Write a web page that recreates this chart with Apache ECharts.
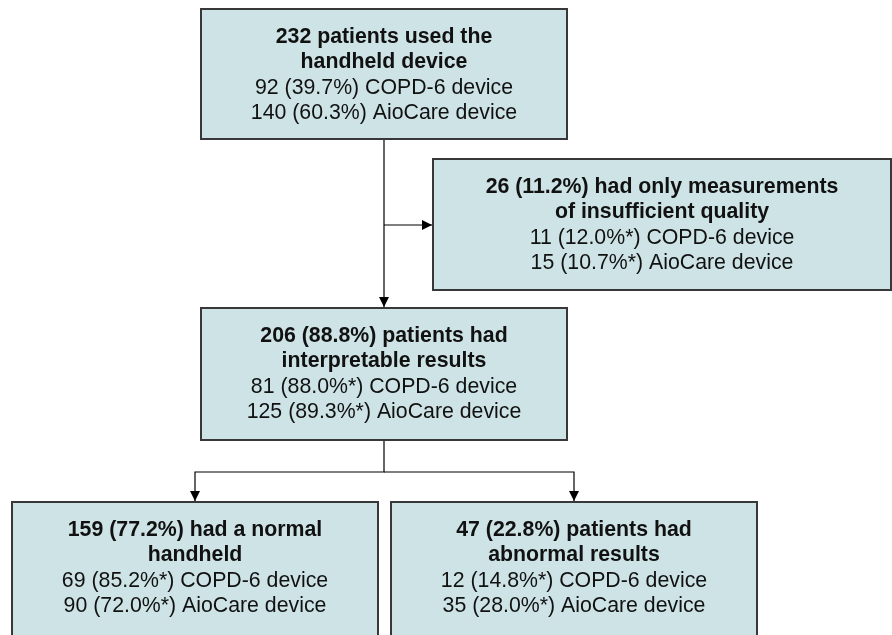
<!DOCTYPE html>
<html lang="en">
<head>
    <meta charset="UTF-8">
    <title>Flowchart</title>
    <script src="https://cdn.jsdelivr.net/npm/echarts@6/dist/echarts.min.js"></script>
    <style>
        body { margin: 0; background: #fff; }
        #chart { width: 892px; height: 635px; }
    </style>
</head>
<body>
    <div id="chart"></div>
    <script>
        // box contents
        const totals = [232, 26, 206, 159, 47];
        const totalPct = [null, 11.2, 88.8, 77.2, 22.8];
        const headings = [
            ['patients used the', 'handheld device'],
            ['had only measurements', 'of insufficient quality'],
            ['patients had', 'interpretable results'],
            ['had a normal', 'handheld'],
            ['patients had', 'abnormal results']
        ];
        const copdCounts = [92, 11, 81, 69, 12];
        const copdPct = [39.7, 12.0, 88.0, 85.2, 14.8];
        const aioCounts = [140, 15, 125, 90, 35];
        const aioPct = [60.3, 10.7, 89.3, 72.0, 28.0];
        const starred = [false, true, true, true, true];

        // layout (canvas units): x0, y0, x1, y1
        const boxLayout = [
            [201, 9, 567, 139],
            [433, 159, 891, 290],
            [201, 308, 567, 440],
            [12, 502, 378, 636],
            [391, 502, 757, 636]
        ];
        // connectors: polyline points, arrow at the last point
        const connectors = [
            [[384, 139], [384, 307]],
            [[384, 225], [432, 225]],
            [[384, 440], [384, 472], [195, 472], [195, 501]],
            [[384, 472], [574, 472], [574, 501]]
        ];

        const FONT = '"Liberation Sans", Arial, Helvetica, sans-serif';
        const SIZE = 21.3;
        const LH = 25.5;

        function boxLines(i) {
            const star = starred[i] ? '*' : '';
            const first = totalPct[i] == null
                ? totals[i] + ' ' + headings[i][0]
                : totals[i] + ' (' + totalPct[i].toFixed(1) + '%) ' + headings[i][0];
            return [
                { t: first, bold: true },
                { t: headings[i][1], bold: true },
                { t: copdCounts[i] + ' (' + copdPct[i].toFixed(1) + '%' + star + ') COPD-6 device', bold: false },
                { t: aioCounts[i] + ' (' + aioPct[i].toFixed(1) + '%' + star + ') AioCare device', bold: false }
            ];
        }

        const chart = echarts.init(document.getElementById('chart'));

        chart.setOption({
            animation: false,
            grid: { left: 0, right: 0, top: 0, bottom: 0 },
            xAxis: { type: 'value', min: 0, max: 892, show: false },
            yAxis: { type: 'value', min: 0, max: 635, inverse: true, show: false },
            series: [
                {
                    type: 'custom',
                    coordinateSystem: 'cartesian2d',
                    clip: false,
                    data: connectors.map((c, i) => [c[0][0], c[0][1], i]),
                    renderItem: function (params, api) {
                        const pts = connectors[params.dataIndex].map(p => api.coord(p));
                        const a = pts[pts.length - 2], b = pts[pts.length - 1];
                        const ang = Math.atan2(b[1] - a[1], b[0] - a[0]);
                        const len = 10, hw = 5;
                        const bx = b[0] - len * Math.cos(ang), by = b[1] - len * Math.sin(ang);
                        const head = [
                            b,
                            [bx + hw * Math.sin(ang), by - hw * Math.cos(ang)],
                            [bx - hw * Math.sin(ang), by + hw * Math.cos(ang)]
                        ];
                        return {
                            type: 'group',
                            children: [
                                { type: 'polyline', shape: { points: pts }, style: { stroke: '#000', lineWidth: 1.2, fill: null } },
                                { type: 'polygon', shape: { points: head }, style: { fill: '#000' } }
                            ]
                        };
                    }
                },
                {
                    type: 'custom',
                    coordinateSystem: 'cartesian2d',
                    clip: false,
                    data: boxLayout,
                    renderItem: function (params, api) {
                        const p0 = api.coord([api.value(0), api.value(1)]);
                        const p1 = api.coord([api.value(2), api.value(3)]);
                        const cx = (p0[0] + p1[0]) / 2;
                        const cy = p0[1] + 66;
                        const children = [{
                            type: 'rect',
                            shape: { x: p0[0], y: p0[1], width: p1[0] - p0[0], height: p1[1] - p0[1] },
                            style: { fill: '#cde3e6', stroke: '#383838', lineWidth: 2 }
                        }];
                        boxLines(params.dataIndex).forEach((ln, k) => {
                            children.push({
                                type: 'text',
                                style: {
                                    text: ln.t,
                                    x: cx,
                                    y: cy + (k - 1.5) * LH,
                                    font: (ln.bold ? 'bold ' : '') + SIZE + 'px ' + FONT,
                                    fill: '#111',
                                    align: 'center',
                                    verticalAlign: 'middle',
                                    textAlign: 'center',
                                    textVerticalAlign: 'middle'
                                }
                            });
                        });
                        return { type: 'group', children: children };
                    }
                }
            ]
        });
    </script>
</body>
</html>
